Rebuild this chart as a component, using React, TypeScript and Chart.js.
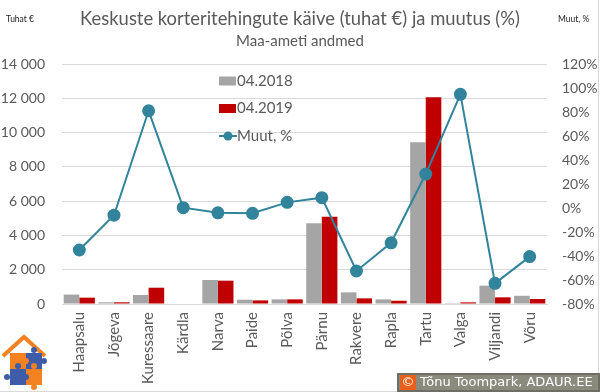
import React, { useEffect, useRef } from "react";
import { Chart, registerables } from "chart.js";
Chart.register(...registerables);

const categories = ["Haapsalu", "Jõgeva", "Kuressaare", "Kärdla", "Narva", "Paide", "Põlva", "Pärnu", "Rakvere", "Rapla", "Tartu", "Valga", "Viljandi", "Võru"];
const turnover2018 = [550, 100, 525, 0, 1400, 250, 270, 4710, 680, 270, 9430, 50, 1070, 480];
const turnover2019 = [370, 100, 950, 0, 1360, 210, 270, 5090, 330, 190, 12060, 97, 390, 290];
const changePct = [-35, -6, 81, 0.3, -4, -4.4, 4.7, 8.6, -52.5, -29, 28.3, 94.7, -62.8, -40.5];
const seriesLabels = ["04.2018", "04.2019", "Muut, %"];
const titleText = "Keskuste korteritehingute käive (tuhat €) ja muutus (%)";
const subtitleText = "Maa-ameti andmed";
const leftAxisTitle = "Tuhat €";
const rightAxisTitle = "Muut, %";
const creditText = "Tõnu Toompark, ADAUR.EE";

const FONT = "Lato";
const TXT = "#595959";
const GRAY = "#a5a5a5";
const RED = "#c00000";
const TEAL = "#31849b";

const overlay = {
  id: "overlay",
  afterDraw(chart: any) {
    const ctx = chart.ctx;
    const ca = chart.chartArea;
    ctx.save();
    // titles
    ctx.fillStyle = TXT;
    ctx.textAlign = "center";
    ctx.textBaseline = "middle";
    ctx.font = `18.4px ${FONT}`;
    ctx.fillText(titleText, 300, 19);
    ctx.font = `15px ${FONT}`;
    ctx.fillText(subtitleText, 300, 41);
    ctx.font = `8.5px ${FONT}`;
    ctx.fillStyle = "#222";
    ctx.textAlign = "left";
    ctx.fillText(leftAxisTitle, 6, 19);
    ctx.fillText(rightAxisTitle, 558, 19);

    // legend
    const lx = ca.left + 157;
    const ly = ca.top + 17;
    const gap = 27.5;
    ctx.font = `15px ${FONT}`;
    ctx.textBaseline = "middle";
    ctx.textAlign = "left";
    ctx.fillStyle = GRAY;
    ctx.fillRect(lx, ly - 4.5, 17, 9);
    ctx.fillStyle = TXT;
    ctx.fillText(seriesLabels[0], lx + 18, ly);
    ctx.fillStyle = RED;
    ctx.fillRect(lx, ly + gap - 4.5, 17, 9);
    ctx.fillStyle = TXT;
    ctx.fillText(seriesLabels[1], lx + 18, ly + gap);
    const y3 = ly + gap * 2;
    ctx.strokeStyle = TEAL;
    ctx.lineWidth = 2;
    ctx.beginPath();
    ctx.moveTo(lx, y3);
    ctx.lineTo(lx + 18, y3);
    ctx.stroke();
    ctx.fillStyle = TEAL;
    ctx.beginPath();
    ctx.arc(lx + 9, y3, 4.5, 0, Math.PI * 2);
    ctx.fill();
    ctx.fillStyle = TXT;
    ctx.fillText(seriesLabels[2], lx + 18, y3);

    // logo
    ctx.strokeStyle = "#f58220";
    ctx.lineWidth = 4;
    ctx.lineJoin = "miter";
    ctx.beginPath();
    ctx.moveTo(3, 356);
    ctx.lineTo(24, 337);
    ctx.lineTo(45, 356);
    ctx.stroke();
    const sq = (x: number, y: number, c: string) => {
      ctx.fillStyle = c;
      ctx.fillRect(x, y, 16, 16);
    };
    sq(10, 353, "#f58220");
    sq(26, 353, "#3f5ca8");
    sq(10, 369, "#3f5ca8");
    sq(26, 369, "#f58220");
    const knob = (x: number, y: number, c: string) => {
      ctx.fillStyle = c;
      ctx.beginPath();
      ctx.arc(x, y, 3, 0, Math.PI * 2);
      ctx.fill();
    };
    knob(34, 350, "#3f5ca8");
    knob(44, 361, "#3f5ca8");
    knob(26, 361, "#f58220");
    knob(7, 377, "#3f5ca8");
    knob(18, 366, "#3f5ca8");
    knob(34, 387, "#f58220");
    knob(26, 377, "#3f5ca8");
    knob(34, 366, "#f58220");

    // borders
    ctx.fillStyle = "#d9d9d9";
    ctx.fillRect(598, 0, 1, 392);
    ctx.fillRect(0, 391, 600, 1);

    // credit box
    ctx.fillStyle = "#6e6e64";
    ctx.fillRect(397, 373, 203, 19);
    ctx.fillStyle = "#8b8b7d";
    ctx.fillRect(399, 375, 199, 15);
    ctx.fillStyle = "#e8601c";
    ctx.fillRect(400, 375, 16, 15);
    ctx.fillStyle = "#fff";
    ctx.font = `13px "DejaVu Sans"`;
    ctx.textAlign = "center";
    ctx.fillText("©", 408, 383);
    ctx.textAlign = "left";
    ctx.fillText(creditText, 420, 383);
    ctx.restore();
  },
};

export default function App() {
  const ref = useRef<HTMLCanvasElement>(null);
  useEffect(() => {
    document.body.style.margin = "0";
    const chart = new Chart(ref.current!, {
      type: "bar",
      data: {
        labels: categories,
        datasets: [
          {
            type: "line",
            label: seriesLabels[2],
            data: changePct,
            yAxisID: "y1",
            borderColor: TEAL,
            backgroundColor: TEAL,
            borderWidth: 2,
            pointRadius: 5.5,
            pointBackgroundColor: TEAL,
            pointBorderColor: TEAL,
            tension: 0,
            order: 0,
          } as any,
          {
            type: "bar",
            label: seriesLabels[0],
            data: turnover2018,
            yAxisID: "y",
            backgroundColor: GRAY,
            categoryPercentage: 0.9,
            barPercentage: 1,
            order: 1,
          },
          {
            type: "bar",
            label: seriesLabels[1],
            data: turnover2019,
            yAxisID: "y",
            backgroundColor: RED,
            categoryPercentage: 0.9,
            barPercentage: 1,
            order: 1,
          },
        ],
      },
      options: {
        animation: false,
        responsive: false,
        maintainAspectRatio: false,
        layout: { padding: { top: 64, left: 0, right: 0, bottom: 0 } },
        plugins: { legend: { display: false }, tooltip: { enabled: false }, title: { display: false } },
        scales: {
          x: {
            grid: { display: false, drawTicks: false },
            border: { display: true, color: "#d9d9d9" },
            ticks: {
              minRotation: 90,
              maxRotation: 90,
              autoSkip: false,
              padding: 8,
              color: TXT,
              font: { family: FONT, size: 15 },
            },
            afterFit: (s: any) => {
              s.height = 88;
            },
          },
          y: {
            position: "left",
            min: 0,
            max: 14000,
            grid: { color: "#d9d9d9", drawTicks: false },
            border: { display: false },
            ticks: {
              stepSize: 2000,
              padding: 17,
              color: TXT,
              font: { family: FONT, size: 14 },
              callback: (v: any) => Number(v).toLocaleString("en-US").replace(/,/g, " "),
            },
            afterFit: (s: any) => {
              s.width = 62;
            },
          },
          y1: {
            position: "right",
            min: -80,
            max: 120,
            grid: { display: false, drawTicks: false },
            border: { display: false },
            ticks: {
              stepSize: 20,
              padding: 15,
              color: TXT,
              font: { family: FONT, size: 14 },
              callback: (v: any) => `${v}%`,
            },
            afterFit: (s: any) => {
              s.width = 53;
            },
          },
        },
      },
      plugins: [overlay],
    });
    return () => chart.destroy();
  }, []);
  return (
    <div style={{ position: "fixed", left: 0, top: 0, width: 600, height: 392, background: "#fff" }}>
      <canvas ref={ref} width={600} height={392} style={{ display: "block" }} />
    </div>
  );
}
